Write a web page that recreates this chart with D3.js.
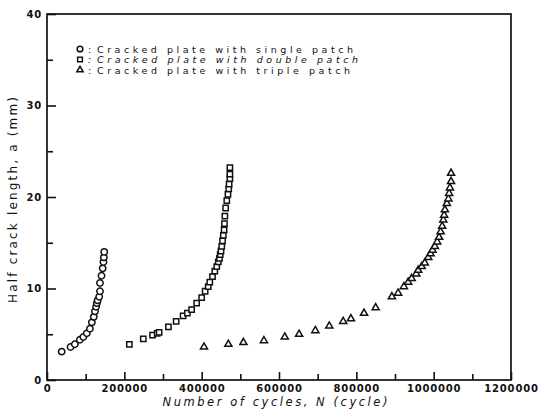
<!DOCTYPE html>
<html>
<head>
<meta charset="utf-8">
<script src="https://cdn.jsdelivr.net/npm/d3@7"></script>
<style>
  body { margin: 0; background: #fff; }
  text { font-family: "DejaVu Sans", sans-serif; fill: #111; }
</style>
</head>
<body>
<script>
// data
const singleN = [38000, 61000, 72000, 85000, 94000, 103000, 111000, 116000, 121000, 124000, 127000, 129000, 131000, 135000, 137000, 137000, 141000, 144000, 146000, 147000, 148000];
const singleA = [3.1, 3.6, 3.9, 4.4, 4.7, 5.1, 5.6, 6.3, 6.9, 7.5, 8.0, 8.4, 8.7, 9.1, 9.7, 10.6, 11.4, 12.2, 12.9, 13.4, 14.0];

const doubleN = [213000, 249000, 273000, 285000, 290000, 314000, 334000, 352000, 363000, 374000, 387000, 400000, 409000, 417000, 421000, 428000, 434000, 439000, 443000, 446000, 448000, 450000, 452000, 454000, 456000, 458000, 459000, 460000, 462000, 465000, 468000, 470000, 471000, 473000, 473000, 473000];
const doubleA = [3.9, 4.5, 4.9, 5.1, 5.2, 5.8, 6.4, 7.0, 7.3, 7.7, 8.4, 9.0, 9.7, 10.2, 10.7, 11.3, 11.9, 12.4, 12.9, 13.3, 13.7, 14.1, 14.6, 15.2, 15.8, 16.4, 17.1, 17.9, 18.8, 19.6, 20.3, 20.9, 21.4, 22.0, 22.5, 23.2];

const tripleN = [406000, 469000, 508000, 561000, 615000, 652000, 694000, 730000, 766000, 786000, 820000, 850000, 892000, 908000, 923000, 934000, 943000, 955000, 960000, 969000, 977000, 986000, 992000, 997000, 1003000, 1009000, 1014000, 1018000, 1022000, 1025000, 1027000, 1029000, 1034000, 1038000, 1040000, 1042000, 1045000, 1045000];
const tripleA = [3.6, 3.9, 4.1, 4.3, 4.7, 5.0, 5.4, 5.9, 6.4, 6.7, 7.3, 7.9, 9.1, 9.5, 10.2, 10.7, 11.1, 11.6, 12.0, 12.4, 12.8, 13.4, 13.8, 14.2, 14.6, 15.1, 15.6, 16.2, 16.8, 17.5, 18.0, 18.6, 19.3, 19.8, 20.4, 21.0, 21.7, 22.6];

const xMajor = [0, 200000, 400000, 600000, 800000, 1000000, 1200000];
const xMinor = [100000, 300000, 500000, 700000, 900000, 1100000];
const yMajor = [0, 10, 20, 30, 40];
const yMinor = [5, 15, 25, 35];

const legendLabels = [
    "Cracked plate with single patch",
    "Cracked plate with double patch",
    "Cracked plate with triple patch"
];

const width = 539;
const height = 420;
const plotLeft = 47, plotRight = 511, plotTop = 14, plotBottom = 380;

const svg = d3.select("body")
              .append("svg")
              .attr("width", width)
              .attr("height", height);

svg.append("rect")
   .attr("width", width)
   .attr("height", height)
   .attr("fill", "#fff");

const xScale = d3.scaleLinear().domain([0, 1200000]).range([plotLeft, plotRight]);
const yScale = d3.scaleLinear().domain([0, 40]).range([plotBottom, plotTop]);

// minor ticks (no labels)
svg.append("g")
   .attr("transform", "translate(0," + plotBottom + ")")
   .call(d3.axisBottom(xScale).tickValues(xMinor).tickSize(-6).tickFormat(""))
   .call(g => g.select(".domain").remove());

svg.append("g")
   .attr("transform", "translate(" + plotLeft + ",0)")
   .call(d3.axisLeft(yScale).tickValues(yMinor).tickSize(-6).tickFormat(""))
   .call(g => g.select(".domain").remove());

// major ticks
svg.append("g")
   .attr("transform", "translate(0," + plotBottom + ")")
   .call(d3.axisBottom(xScale).tickValues(xMajor).tickSize(-8).tickPadding(5).tickFormat(d3.format("d")))
   .call(g => g.select(".domain").remove());

svg.append("g")
   .attr("transform", "translate(" + plotLeft + ",0)")
   .call(d3.axisLeft(yScale).tickValues(yMajor).tickSize(-9).tickPadding(5).tickFormat(d3.format("d")))
   .call(g => g.select(".domain").remove());

svg.selectAll(".tick line")
   .attr("stroke", "#111")
   .attr("stroke-width", 1.6);

svg.selectAll(".tick text")
   .attr("font-family", "DejaVu Sans, sans-serif")
   .attr("font-size", 10)
   .attr("font-weight", "bold")
   .attr("letter-spacing", 0.8)
   .attr("fill", "#111");

// frame
svg.append("rect")
   .attr("x", plotLeft)
   .attr("y", plotTop)
   .attr("width", plotRight - plotLeft)
   .attr("height", plotBottom - plotTop)
   .attr("fill", "none")
   .attr("stroke", "#111")
   .attr("stroke-width", 1.7);

// axis titles
svg.append("text")
   .attr("x", 275)
   .attr("y", 406)
   .attr("text-anchor", "middle")
   .attr("font-size", 11.5)
   .attr("font-style", "italic")
   .attr("textLength", 225)
   .attr("lengthAdjust", "spacing")
   .text("Number of cycles, N (cycle)");

svg.append("text")
   .attr("transform", "translate(17,200) rotate(-90)")
   .attr("text-anchor", "middle")
   .attr("font-size", 12)
   .attr("textLength", 206)
   .attr("lengthAdjust", "spacing")
   .text("Half crack length, a (mm)");

// markers
const shapes = [d3.symbolCircle, d3.symbolSquare, d3.symbolTriangle];
const sizes = [32, 28, 22];
const series = [
    singleN.map((n, i) => [n, singleA[i]]),
    doubleN.map((n, i) => [n, doubleA[i]]),
    tripleN.map((n, i) => [n, tripleA[i]])
];

series.forEach((pts, s) => {
    svg.append("g")
       .selectAll("path")
       .data(pts)
       .enter()
       .append("path")
       .attr("d", d3.symbol().type(shapes[s]).size(sizes[s]))
       .attr("transform", d => "translate(" + xScale(d[0]) + "," + yScale(d[1]) + ")")
       .attr("fill", "#fff")
       .attr("stroke", "#111")
       .attr("stroke-width", 1.5);
});

// legend
const legendY = [49, 59.5, 70];
const legendLen = [256, 261, 253];
legendLabels.forEach((label, i) => {
    svg.append("path")
       .attr("d", d3.symbol().type(shapes[i]).size(sizes[i] * 0.8))
       .attr("transform", "translate(80," + legendY[i] + ")")
       .attr("fill", "#fff")
       .attr("stroke", "#111")
       .attr("stroke-width", 1.5);
    svg.append("text")
       .attr("x", 88)
       .attr("y", legendY[i] + 3.5)
       .attr("font-size", 9.5)
       .attr("font-style", i == 1 ? "italic" : "normal")
       .text(":");
    svg.append("text")
       .attr("x", 97)
       .attr("y", legendY[i] + 3.5)
       .attr("font-size", 9.5)
       .attr("font-style", i == 1 ? "italic" : "normal")
       .attr("textLength", legendLen[i])
       .attr("lengthAdjust", "spacing")
       .text(label);
});
</script>
</body>
</html>
